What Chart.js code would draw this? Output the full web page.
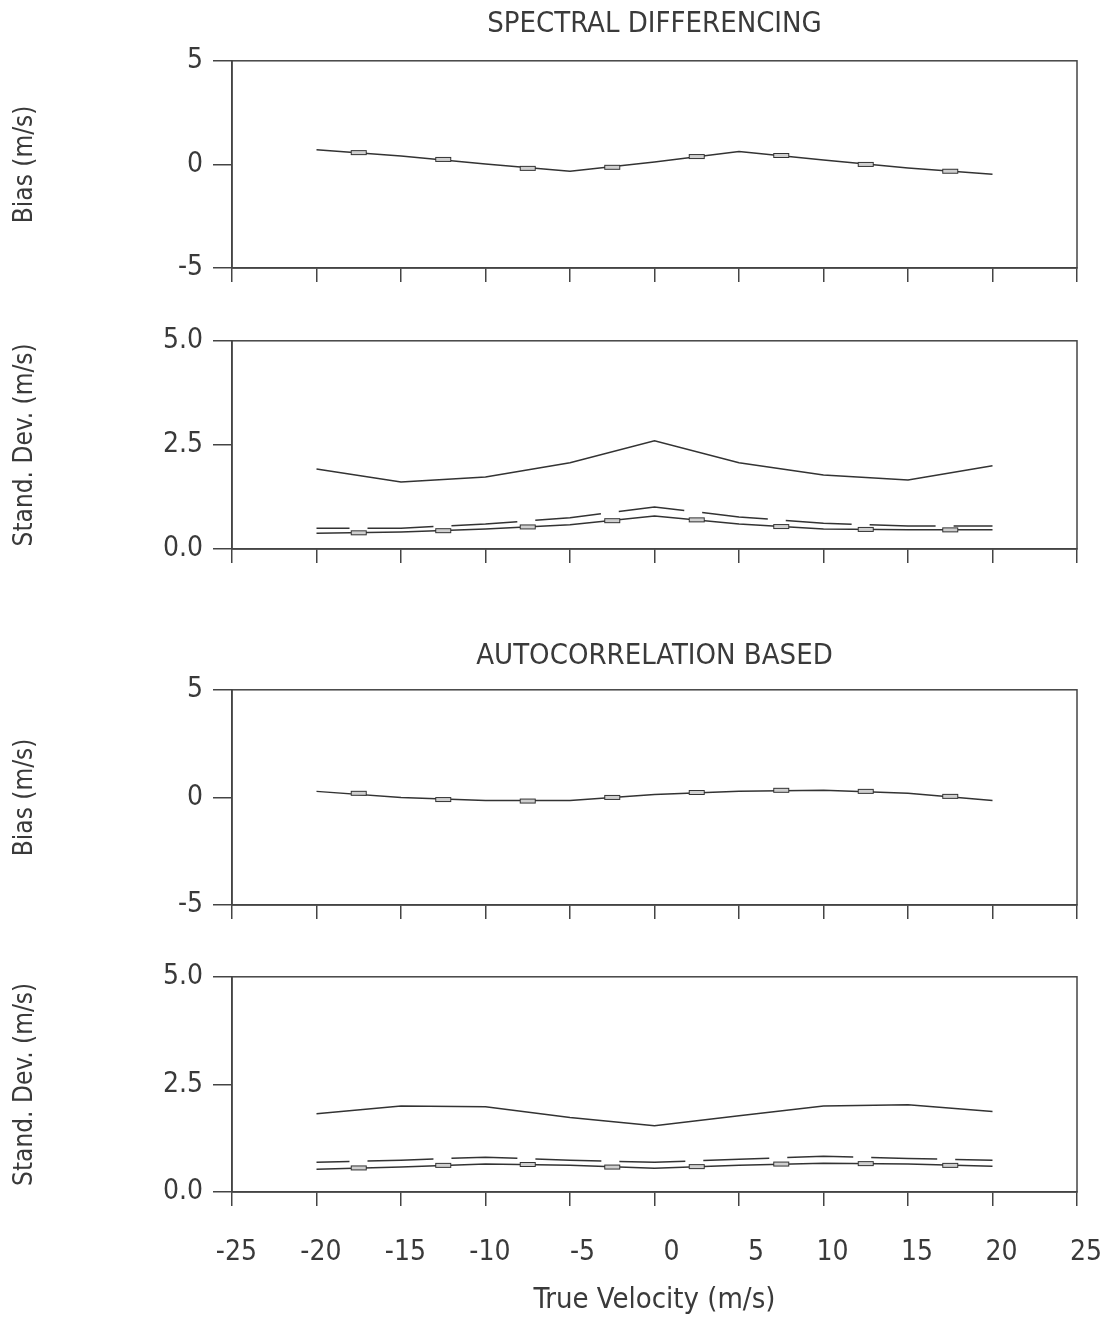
<!DOCTYPE html>
<html>
<head>
<meta charset="utf-8">
<script src="https://cdn.jsdelivr.net/npm/chart.js@4.4.1/dist/chart.umd.min.js"></script>
<style>
body { margin: 0; background: #fff; }
#wrap { position: relative; width: 1110px; height: 1321px; }
canvas { position: absolute; left: 0; }
</style>
</head>
<body>
<div id="wrap">
<canvas id="chart1" width="1110" height="300" style="top:0px"></canvas>
<canvas id="chart2" width="1110" height="266" style="top:314px"></canvas>
<canvas id="chart3" width="1110" height="315" style="top:620px"></canvas>
<canvas id="chart4" width="1110" height="371" style="top:950px"></canvas>
</div>
<script>
// x positions of the curves and of the little box markers
const velocity = [-20, -15, -10, -5, 0, 5, 10, 15, 20];
const boxVelocity = [-17.5, -12.5, -7.5, -2.5, 2.5, 7.5, 12.5, 17.5];

// spectral differencing
const sdBias = [0.71, 0.40, 0.02, -0.33, 0.12, 0.62, 0.21, -0.17, -0.48];
const sdBiasBox = [0.57, 0.24, -0.19, -0.14, 0.38, 0.43, 0.00, -0.33];
const sdStdUpper = [1.92, 1.61, 1.73, 2.07, 2.60, 2.07, 1.78, 1.66, 2.00];
const sdStdDash = [0.50, 0.50, 0.60, 0.75, 1.01, 0.77, 0.62, 0.55, 0.55];
const sdStdLower = [0.38, 0.41, 0.48, 0.58, 0.79, 0.60, 0.48, 0.46, 0.46];
const sdStdBox = [0.39, 0.44, 0.53, 0.68, 0.70, 0.54, 0.47, 0.46];

// autocorrelation based
const acBias = [0.28, 0.00, -0.14, -0.14, 0.14, 0.28, 0.33, 0.19, -0.14];
const acBiasBox = [0.19, -0.10, -0.17, 0.00, 0.23, 0.33, 0.28, 0.05];
const acStdUpper = [1.82, 2.00, 1.98, 1.73, 1.54, 1.77, 2.00, 2.03, 1.87];
const acStdDash = [0.69, 0.74, 0.81, 0.74, 0.69, 0.76, 0.83, 0.78, 0.74];
const acStdLower = [0.53, 0.58, 0.65, 0.62, 0.55, 0.62, 0.67, 0.65, 0.60];
const acStdBox = [0.56, 0.62, 0.64, 0.58, 0.59, 0.65, 0.66, 0.62];

const FONT = "'DejaVu Sans Condensed', 'Liberation Sans Narrow', 'DejaVu Sans', sans-serif";
const INK = '#3a3a3a';
const AXIS = '#444';

// small open rectangle used as the marker
function makeBox() {
    const c = document.createElement('canvas');
    c.width = 18;
    c.height = 7;
    const g = c.getContext('2d');
    g.fillStyle = '#cfcfcf';
    g.fillRect(1, 1, 16, 5);
    g.strokeStyle = '#333';
    g.lineWidth = 1;
    g.strokeRect(1.5, 1.5, 15, 4);
    return c;
}
const boxImg = makeBox();

function pts(xs, ys) {
    return xs.map((x, i) => ({ x: x, y: ys[i] }));
}

function solid(ys) {
    return { data: pts(velocity, ys), showLine: true, borderColor: '#333', borderWidth: 1.5,
        pointRadius: 0, fill: false, tension: 0 };
}
function dashed(ys) {
    return { data: pts(velocity, ys), showLine: true, borderColor: '#333', borderWidth: 1.5,
        pointRadius: 0, fill: false, tension: 0, borderDash: [66, 18], borderDashOffset: 33 };
}
function boxes(ys) {
    return { data: pts(boxVelocity, ys), showLine: false, pointStyle: boxImg, pointRadius: 9 };
}

// top and right edges of the frame
const framePlugin = {
    id: 'frame',
    afterDraw(chart) {
        const a = chart.chartArea;
        const c = chart.ctx;
        c.save();
        c.strokeStyle = AXIS;
        c.lineWidth = 1.5;
        c.strokeRect(a.left, a.top, a.right - a.left, a.bottom - a.top);
        c.restore();
    }
};

function makePanel(id, p) {
    return new Chart(document.getElementById(id), {
        type: 'scatter',
        data: { datasets: p.datasets },
        plugins: [framePlugin],
        options: {
            responsive: false,
            animation: false,
            layout: { padding: { top: p.padTop, right: 33, left: 0, bottom: 0 } },
            plugins: {
                legend: { display: false },
                tooltip: { enabled: false },
                title: {
                    display: !!p.title,
                    text: p.title,
                    fullSize: false,
                    color: INK,
                    font: { family: FONT, size: 29, weight: 'normal' },
                    padding: { top: p.titleTop || 0, bottom: p.titleBottom || 0 }
                }
            },
            scales: {
                x: {
                    type: 'linear',
                    min: -25,
                    max: 25,
                    ticks: {
                        stepSize: 5,
                        display: !!p.showX,
                        align: 'end',
                        labelOffset: 25,
                        padding: 30,
                        color: INK,
                        font: { family: FONT, size: 28 }
                    },
                    grid: { drawOnChartArea: false, tickLength: 14, color: AXIS, lineWidth: 1.5 },
                    border: { color: AXIS, width: 1.5 },
                    title: {
                        display: !!p.showX,
                        text: 'True Velocity (m/s)',
                        color: INK,
                        font: { family: FONT, size: 29 },
                        padding: { top: 0, bottom: 3 }
                    },
                    afterFit: s => { s.height = p.xHeight; }
                },
                y: {
                    min: p.yMin,
                    max: p.yMax,
                    ticks: {
                        stepSize: p.yStep,
                        padding: 10,
                        color: INK,
                        font: { family: FONT, size: 28 },
                        callback: p.yFmt
                    },
                    grid: { drawOnChartArea: false, tickLength: 19, color: AXIS, lineWidth: 1.5 },
                    border: { color: AXIS, width: 1.5 },
                    title: {
                        display: true,
                        text: p.yTitle,
                        color: INK,
                        font: { family: FONT, size: 26 },
                        padding: { top: 10, bottom: 0 }
                    },
                    afterFit: s => { s.width = 232; }
                }
            }
        }
    });
}

const biasFmt = v => String(v);
const stdFmt = v => v.toFixed(1);

makePanel('chart1', {
    title: 'SPECTRAL DIFFERENCING', titleTop: 7, titleBottom: 19, padTop: 0, xHeight: 32,
    yTitle: 'Bias (m/s)', yMin: -5, yMax: 5, yStep: 5, yFmt: biasFmt,
    datasets: [boxes(sdBiasBox), solid(sdBias)]
});
makePanel('chart2', {
    padTop: 21, xHeight: 31,
    yTitle: 'Stand. Dev. (m/s)', yMin: 0, yMax: 5, yStep: 2.5, yFmt: stdFmt,
    datasets: [boxes(sdStdBox), solid(sdStdUpper), dashed(sdStdDash), solid(sdStdLower)]
});
makePanel('chart3', {
    title: 'AUTOCORRELATION BASED', titleTop: 19, titleBottom: 16, padTop: 0, xHeight: 30,
    yTitle: 'Bias (m/s)', yMin: -5, yMax: 5, yStep: 5, yFmt: biasFmt,
    datasets: [boxes(acBiasBox), solid(acBias)]
});
makePanel('chart4', {
    padTop: 21, xHeight: 129, showX: true,
    yTitle: 'Stand. Dev. (m/s)', yMin: 0, yMax: 5, yStep: 2.5, yFmt: stdFmt,
    datasets: [boxes(acStdBox), solid(acStdUpper), dashed(acStdDash), solid(acStdLower)]
});
</script>
</body>
</html>
